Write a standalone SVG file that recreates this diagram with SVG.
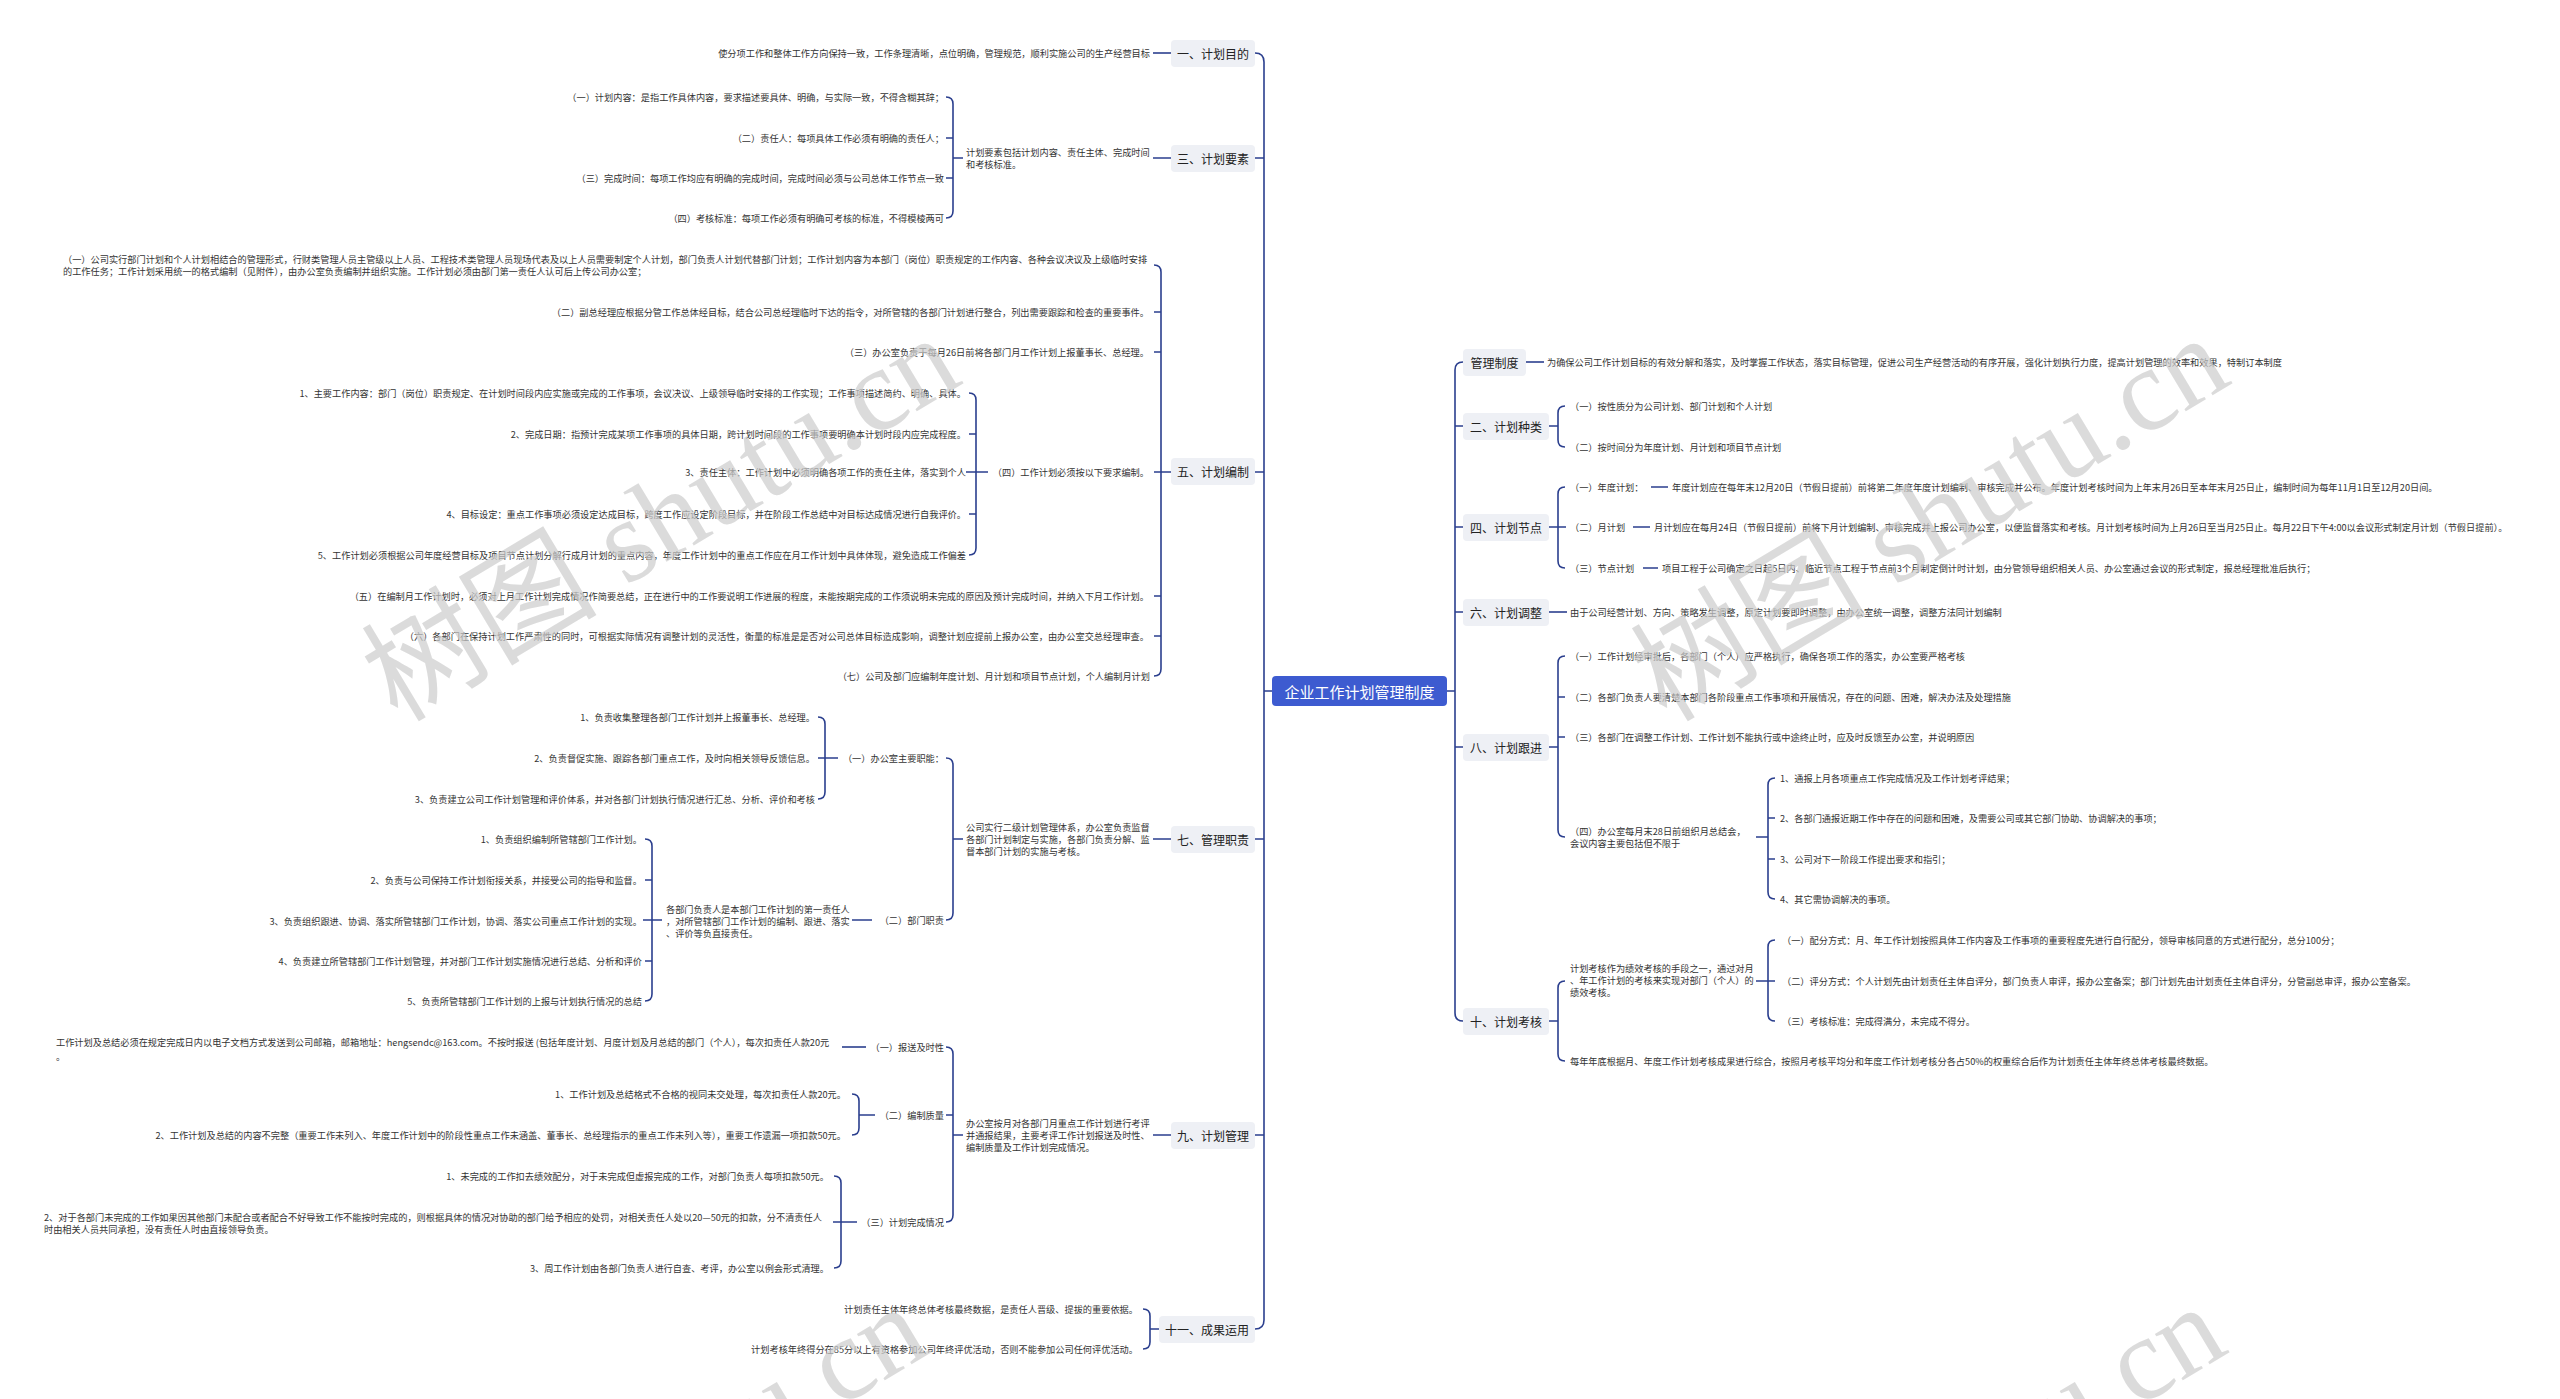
<svg xmlns="http://www.w3.org/2000/svg" width="2560" height="1399" viewBox="0 0 2560 1399">
<defs>
<style>
.t{font-family:"Noto Sans CJK SC","Noto Sans",sans-serif;font-size:9.2px;fill:#333;dominant-baseline:central}
.e{text-anchor:end}
.bx{fill:#eef0f5}
.l1{font-family:"Noto Sans CJK SC","Noto Sans",sans-serif;font-size:12px;fill:#222;text-anchor:middle;dominant-baseline:central}
.ln{fill:none;stroke:#2b3f8e;stroke-width:1.6}
.wm{font-family:"Liberation Serif","Noto Sans CJK SC",serif;font-size:118px;fill:#cccccc;fill-opacity:0.7;text-anchor:middle;dominant-baseline:central}
</style>
</defs>
<rect width="2560" height="1399" fill="#ffffff"/>

<g id="connectors" class="ln">
<path d="M1255 53 Q1264 53 1264 62 L1264 1320 Q1264 1329 1255 1329"/>
<path d="M1255 158 H1264 M1255 472 H1264 M1255 839 H1264 M1255 1135 H1264 M1264 691 H1272"/>
<path d="M1463 362 Q1455 362 1455 370 L1455 1013 Q1455 1021 1463 1021"/>
<path d="M1455 426 H1463 M1455 527 H1463 M1455 612 H1463 M1455 747 H1463 M1447 691 H1455"/>
<path d="M1153 53 H1171"/>
<path d="M1153 158 H1171 M946 97 Q953 97 953 104 V211 Q953 218 946 218 M946 138 H953 M946 178 H953 M953 158 H963"/>
<path d="M1154 472 H1171 M1154 265 Q1161 265 1161 272 V669 Q1161 676 1154 676 M1154 312 H1161 M1154 352 H1161 M1154 596 H1161 M1154 636 H1161"/>
<path d="M966 472 H988 M969 393 Q976 393 976 400 V548 Q976 555 969 555 M969 434 H976 M969 514 H976"/>
<path d="M1153 839 H1171 M946 758 Q953 758 953 765 V913 Q953 920 946 920 M953 839 H963"/>
<path d="M818 758 H838 M818 717 Q825 717 825 724 V792 Q825 799 818 799"/>
<path d="M852 920 H872 M643 920 H662 M645 839 Q652 839 652 846 V994 Q652 1001 645 1001 M645 880 H652 M645 961 H652"/>
<path d="M1153 1135 H1171 M946 1047 Q953 1047 953 1054 V1215 Q953 1222 946 1222 M946 1115 H953 M953 1135 H963"/>
<path d="M842 1047 H866"/>
<path d="M852 1094 Q859 1094 859 1101 V1128 Q859 1135 852 1135 M859 1115 H875"/>
<path d="M833 1222 H857 M834 1176 Q841 1176 841 1183 V1261 Q841 1268 834 1268"/>
<path d="M1150 1329 H1159 M1143 1309 Q1150 1309 1150 1316 V1342 Q1150 1349 1143 1349"/>
<path d="M1526 362 H1544"/>
<path d="M1549 426 H1558 M1565 406 Q1558 406 1558 413 V440 Q1558 447 1565 447"/>
<path d="M1549 527 H1566 M1565 487 Q1558 487 1558 494 V561 Q1558 568 1565 568 M1651 487 H1668 M1633 527 H1650 M1643 568 H1658"/>
<path d="M1549 612 H1567"/>
<path d="M1549 747 H1558 M1565 656 Q1558 656 1558 663 V830 Q1558 837 1565 837 M1558 697 H1565 M1558 737 H1565"/>
<path d="M1756 837 H1768 M1775 778 Q1768 778 1768 785 V892 Q1768 899 1775 899 M1768 818 H1775 M1768 859 H1775"/>
<path d="M1549 1021 H1558 M1565 981 Q1558 981 1558 988 V1054 Q1558 1061 1565 1061"/>
<path d="M1756 981 H1775 M1775 940 Q1768 940 1768 947 V1014 Q1768 1021 1775 1021"/>
</g>

<g id="root">
<rect x="1272" y="676" width="175" height="30" rx="4" fill="#3d5bd0"/>
<text x="1359.5" y="691" style="font-family:'Noto Sans CJK SC',sans-serif;font-size:15px;fill:#fff;text-anchor:middle;dominant-baseline:central">企业工作计划管理制度</text>
</g>

<g id="n1">
<rect class="bx" x="1171" y="40" width="84" height="27" rx="4"/>
<text class="l1" x="1213" y="53.5">一、计划目的</text>
<text class="t e" x="1150" y="53">使分项工作和整体工作方向保持一致，工作条理清晰，点位明确，管理规范，顺利实施公司的生产经营目标</text>
</g>

<g id="n3">
<rect class="bx" x="1171" y="145" width="84" height="27" rx="4"/>
<text class="l1" x="1213" y="158.5">三、计划要素</text>
<text class="t" x="966" y="152">计划要素包括计划内容、责任主体、完成时间</text>
<text class="t" x="966" y="164">和考核标准。</text>
<text class="t e" x="944" y="97">（一）计划内容：是指工作具体内容，要求描述要具体、明确，与实际一致，不得含糊其辞；</text>
<text class="t e" x="944" y="138">（二）责任人：每项具体工作必须有明确的责任人；</text>
<text class="t e" x="944" y="178">（三）完成时间：每项工作均应有明确的完成时间，完成时间必须与公司总体工作节点一致</text>
<text class="t e" x="944" y="218">（四）考核标准：每项工作必须有明确可考核的标准，不得模棱两可</text>
</g>

<g id="n5">
<rect class="bx" x="1171" y="458" width="84" height="27" rx="4"/>
<text class="l1" x="1213" y="471.5">五、计划编制</text>
<text class="t" x="63" y="259">（一）公司实行部门计划和个人计划相结合的管理形式，行财类管理人员主管级以上人员、工程技术类管理人员现场代表及以上人员需要制定个人计划，部门负责人计划代替部门计划；工作计划内容为本部门（岗位）职责规定的工作内容、各种会议决议及上级临时安排</text>
<text class="t" x="63" y="271">的工作任务；工作计划采用统一的格式编制（见附件），由办公室负责编制并组织实施。工作计划必须由部门第一责任人认可后上传公司办公室；</text>
<text class="t e" x="1149" y="312">（二）副总经理应根据分管工作总体经目标，结合公司总经理临时下达的指令，对所管辖的各部门计划进行整合，列出需要跟踪和检查的重要事件。</text>
<text class="t e" x="1149" y="352">（三）办公室负责于每月26日前将各部门月工作计划上报董事长、总经理。</text>
<text class="t e" x="1149" y="472">（四）工作计划必须按以下要求编制。</text>
<text class="t e" x="966" y="393">1、主要工作内容：部门（岗位）职责规定、在计划时间段内应实施或完成的工作事项，会议决议、上级领导临时安排的工作实现；工作事项描述简约、明确、具体。</text>
<text class="t e" x="966" y="434">2、完成日期：指预计完成某项工作事项的具体日期，跨计划时间段的工作事项要明确本计划时段内应完成程度。</text>
<text class="t e" x="966" y="472">3、责任主体：工作计划中必须明确各项工作的责任主体，落实到个人</text>
<text class="t e" x="966" y="514">4、目标设定：重点工作事项必须设定达成目标，跨度工作应设定阶段目标，并在阶段工作总结中对目标达成情况进行自我评价。</text>
<text class="t e" x="966" y="555">5、工作计划必须根据公司年度经营目标及项目节点计划分解行成月计划的重点内容，年度工作计划中的重点工作应在月工作计划中具体体现，避免造成工作偏差</text>
<text class="t e" x="1149" y="596">（五）在编制月工作计划时，必须对上月工作计划完成情况作简要总结，正在进行中的工作要说明工作进展的程度，未能按期完成的工作须说明未完成的原因及预计完成时间，并纳入下月工作计划。</text>
<text class="t e" x="1149" y="636">（六）各部门在保持计划工作严肃性的同时，可根据实际情况有调整计划的灵活性，衡量的标准是是否对公司总体目标造成影响，调整计划应提前上报办公室，由办公室交总经理审查。</text>
<text class="t e" x="1150" y="676">（七）公司及部门应编制年度计划、月计划和项目节点计划，个人编制月计划</text>
</g>

<g id="n7">
<rect class="bx" x="1171" y="826" width="84" height="27" rx="4"/>
<text class="l1" x="1213" y="839.5">七、管理职责</text>
<text class="t" x="966" y="827">公司实行二级计划管理体系，办公室负责监督</text>
<text class="t" x="966" y="839">各部门计划制定与实施，各部门负责分解、监</text>
<text class="t" x="966" y="851">督本部门计划的实施与考核。</text>
<text class="t e" x="944" y="758">（一）办公室主要职能：</text>
<text class="t e" x="815" y="717">1、负责收集整理各部门工作计划并上报董事长、总经理。</text>
<text class="t e" x="815" y="758">2、负责督促实施、跟踪各部门重点工作，及时向相关领导反馈信息。</text>
<text class="t e" x="815" y="799">3、负责建立公司工作计划管理和评价体系，并对各部门计划执行情况进行汇总、分析、评价和考核</text>
<text class="t e" x="944" y="920">（二）部门职责</text>
<text class="t" x="666" y="909">各部门负责人是本部门工作计划的第一责任人</text>
<text class="t" x="666" y="921">，对所管辖部门工作计划的编制、跟进、落实</text>
<text class="t" x="666" y="933">、评价等负直接责任。</text>
<text class="t e" x="642" y="839">1、负责组织编制所管辖部门工作计划。</text>
<text class="t e" x="642" y="880">2、负责与公司保持工作计划衔接关系，并接受公司的指导和监督。</text>
<text class="t e" x="642" y="921">3、负责组织跟进、协调、落实所管辖部门工作计划，协调、落实公司重点工作计划的实现。</text>
<text class="t e" x="642" y="961">4、负责建立所管辖部门工作计划管理，并对部门工作计划实施情况进行总结、分析和评价</text>
<text class="t e" x="642" y="1001">5、负责所管辖部门工作计划的上报与计划执行情况的总结</text>
</g>

<g id="n9">
<rect class="bx" x="1171" y="1122" width="84" height="27" rx="4"/>
<text class="l1" x="1213" y="1135.5">九、计划管理</text>
<text class="t" x="966" y="1123">办公室按月对各部门月重点工作计划进行考评</text>
<text class="t" x="966" y="1135">并通报结果，主要考评工作计划报送及时性、</text>
<text class="t" x="966" y="1147">编制质量及工作计划完成情况。</text>
<text class="t e" x="944" y="1047">（一）报送及时性</text>
<text class="t" x="56" y="1042">工作计划及总结必须在规定完成日内以电子文档方式发送到公司邮箱，邮箱地址：hengsendc@163.com。不按时报送 (包括年度计划、月度计划及月总结的部门（个人），每次扣责任人款20元</text>
<text class="t" x="56" y="1056">。</text>
<text class="t e" x="944" y="1115">（二）编制质量</text>
<text class="t e" x="846" y="1094">1、工作计划及总结格式不合格的视同未交处理，每次扣责任人款20元。</text>
<text class="t e" x="846" y="1135">2、工作计划及总结的内容不完整（重要工作未列入、年度工作计划中的阶段性重点工作未涵盖、董事长、总经理指示的重点工作未列入等），重要工作遗漏一项扣款50元。</text>
<text class="t e" x="944" y="1222">（三）计划完成情况</text>
<text class="t e" x="829" y="1176">1、未完成的工作扣去绩效配分，对于未完成但虚报完成的工作，对部门负责人每项扣款50元。</text>
<text class="t" x="44" y="1217">2、对于各部门未完成的工作如果因其他部门未配合或者配合不好导致工作不能按时完成的，则根据具体的情况对协助的部门给予相应的处罚，对相关责任人处以20—50元的扣款，分不清责任人</text>
<text class="t" x="44" y="1229">时由相关人员共同承担，没有责任人时由直接领导负责。</text>
<text class="t e" x="829" y="1268">3、周工作计划由各部门负责人进行自查、考评，办公室以例会形式清理。</text>
</g>

<g id="n11">
<rect class="bx" x="1159" y="1316" width="96" height="27" rx="4"/>
<text class="l1" x="1207" y="1329.5">十一、成果运用</text>
<text class="t e" x="1138" y="1309">计划责任主体年终总体考核最终数据，是责任人晋级、提拔的重要依据。</text>
<text class="t e" x="1138" y="1349">计划考核年终得分在85分以上有资格参加公司年终评优活动，否则不能参加公司任何评优活动。</text>
</g>

<g id="nzd">
<rect class="bx" x="1463" y="349" width="63" height="27" rx="4"/>
<text class="l1" x="1494.5" y="362.5">管理制度</text>
<text class="t" x="1547" y="362">为确保公司工作计划目标的有效分解和落实，及时掌握工作状态，落实目标管理，促进公司生产经营活动的有序开展，强化计划执行力度，提高计划管理的效率和效果，特制订本制度</text>
</g>

<g id="n2">
<rect class="bx" x="1463" y="413" width="86" height="27" rx="4"/>
<text class="l1" x="1506" y="426.5">二、计划种类</text>
<text class="t" x="1570" y="406">（一）按性质分为公司计划、部门计划和个人计划</text>
<text class="t" x="1570" y="447">（二）按时间分为年度计划、月计划和项目节点计划</text>
</g>

<g id="n4">
<rect class="bx" x="1463" y="514" width="86" height="27" rx="4"/>
<text class="l1" x="1506" y="527.5">四、计划节点</text>
<text class="t" x="1570" y="487">（一）年度计划：</text>
<text class="t" x="1672" y="487">年度计划应在每年末12月20日（节假日提前）前将第二年度年度计划编制、审核完成并公布。年度计划考核时间为上年末月26日至本年末月25日止，编制时间为每年11月1日至12月20日间。</text>
<text class="t" x="1570" y="527">（二）月计划</text>
<text class="t" x="1654" y="527">月计划应在每月24日（节假日提前）前将下月计划编制、审核完成并上报公司办公室，以便监督落实和考核。月计划考核时间为上月26日至当月25日止。每月22日下午4:00以会议形式制定月计划（节假日提前）。</text>
<text class="t" x="1570" y="568">（三）节点计划</text>
<text class="t" x="1662" y="568">项目工程于公司确定之日起5日内、临近节点工程于节点前3个月制定倒计时计划，由分管领导组织相关人员、办公室通过会议的形式制定，报总经理批准后执行；</text>
</g>

<g id="n6">
<rect class="bx" x="1463" y="599" width="86" height="27" rx="4"/>
<text class="l1" x="1506" y="612.5">六、计划调整</text>
<text class="t" x="1570" y="612">由于公司经营计划、方向、策略发生调整，原定计划要即时调整，由办公室统一调整，调整方法同计划编制</text>
</g>

<g id="n8">
<rect class="bx" x="1463" y="734" width="86" height="27" rx="4"/>
<text class="l1" x="1506" y="747.5">八、计划跟进</text>
<text class="t" x="1570" y="656">（一）工作计划经审批后，各部门（个人）应严格执行，确保各项工作的落实，办公室要严格考核</text>
<text class="t" x="1570" y="697">（二）各部门负责人要清楚本部门各阶段重点工作事项和开展情况，存在的问题、困难，解决办法及处理措施</text>
<text class="t" x="1570" y="737">（三）各部门在调整工作计划、工作计划不能执行或中途终止时，应及时反馈至办公室，并说明原因</text>
<text class="t" x="1570" y="831">（四）办公室每月末28日前组织月总结会，</text>
<text class="t" x="1570" y="843">会议内容主要包括但不限于</text>
<text class="t" x="1780" y="778">1、通报上月各项重点工作完成情况及工作计划考评结果；</text>
<text class="t" x="1780" y="818">2、各部门通报近期工作中存在的问题和困难，及需要公司或其它部门协助、协调解决的事项；</text>
<text class="t" x="1780" y="859">3、公司对下一阶段工作提出要求和指引；</text>
<text class="t" x="1780" y="899">4、其它需协调解决的事项。</text>
</g>

<g id="n10">
<rect class="bx" x="1463" y="1008" width="86" height="27" rx="4"/>
<text class="l1" x="1506" y="1021.5">十、计划考核</text>
<text class="t" x="1570" y="968">计划考核作为绩效考核的手段之一，通过对月</text>
<text class="t" x="1570" y="980">、年工作计划的考核来实现对部门（个人）的</text>
<text class="t" x="1570" y="992">绩效考核。</text>
<text class="t" x="1782" y="940">（一）配分方式：月、年工作计划按照具体工作内容及工作事项的重要程度先进行自行配分，领导审核同意的方式进行配分，总分100分；</text>
<text class="t" x="1782" y="981">（二）评分方式：个人计划先由计划责任主体自评分，部门负责人审评，报办公室备案；部门计划先由计划责任主体自评分，分管副总审评，报办公室备案。</text>
<text class="t" x="1782" y="1021">（三）考核标准：完成得满分，未完成不得分。</text>
<text class="t" x="1570" y="1061">每年年底根据月、年度工作计划考核成果进行综合，按照月考核平均分和年度工作计划考核分各占50%的权重综合后作为计划责任主体年终总体考核最终数据。</text>
</g>

<g id="watermark">
<text class="wm" transform="translate(661 519) rotate(-31)">树图 shutu.cn</text>
<text class="wm" transform="translate(1930 519) rotate(-31)">树图 shutu.cn</text>
<text class="wm" transform="translate(629 1488) rotate(-31)">树图 shutu.cn</text>
<text class="wm" transform="translate(1927 1488) rotate(-31)">树图 shutu.cn</text>
</g>
</svg>
